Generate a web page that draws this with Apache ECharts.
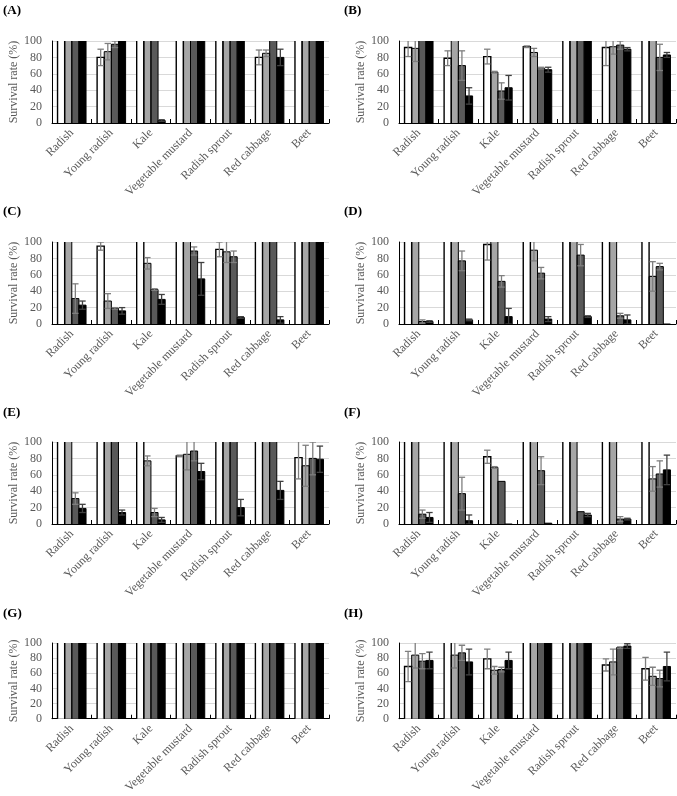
<!DOCTYPE html>
<html>
<head>
<meta charset="utf-8">
<script src="https://cdn.jsdelivr.net/npm/echarts@6/dist/echarts.min.js"></script>
<style>
html,body{margin:0;padding:0;background:#fff;}
#chart{width:677px;height:796px;}
</style>
</head>
<body>
<div id="chart"></div>
<script>
// Categories and tick labels
const categories = ['Radish', 'Young radish', 'Kale', 'Vegetable mustard', 'Radish sprout', 'Red cabbage', 'Beet'];
const panelLabels = ['(A)', '(B)', '(C)', '(D)', '(E)', '(F)', '(G)', '(H)'];
const yTicks = [0, 20, 40, 60, 80, 100];
const yAxisName = 'Survival rate (%)';

// Series order within each panel: white, light gray, dark gray, black
const A_mean = [
  [100, 80, 100, 100, 100, 80, 100],
  [100, 87, 100, 100, 100, 85, 100],
  [100, 96, 100, 100, 100, 100, 100],
  [100, 100, 3, 100, 100, 80, 100]
];
const A_sd = [
  [0, 10, 0, 0, 0, 9, 0],
  [0, 10, 0, 0, 0, 4, 0],
  [0, 4, 0, 0, 0, 0, 0],
  [0, 0, 1, 0, 0, 10, 0]
];
const B_mean = [
  [92, 79, 81, 93, 100, 92, 100],
  [91, 100, 62, 86, 100, 93, 100],
  [100, 70, 39, 67, 100, 95, 80],
  [100, 33, 43, 65, 100, 90, 83]
];
const B_sd = [
  [11, 9, 9, 1, 0, 22, 0],
  [16, 0, 1, 5, 0, 9, 0],
  [0, 18, 10, 1, 0, 5, 16],
  [0, 10, 15, 3, 0, 2, 3]
];
const C_mean = [
  [100, 95, 100, 100, 91, 100, 100],
  [100, 28, 74, 100, 88, 100, 100],
  [31, 19, 42, 89, 82, 100, 100],
  [23, 16, 30, 55, 8, 5, 100]
];
const C_sd = [
  [0, 5, 0, 0, 9, 0, 0],
  [0, 9, 7, 0, 13, 0, 0],
  [18, 1, 1, 5, 7, 0, 0],
  [5, 4, 6, 20, 1, 4, 0]
];
const D_mean = [
  [100, 100, 97, 100, 100, 100, 100],
  [100, 100, 100, 90, 100, 100, 58],
  [3, 77, 52, 62, 84, 10, 70],
  [3, 5, 9, 6, 9, 5, 0]
];
const D_sd = [
  [0, 0, 19, 0, 0, 0, 0],
  [0, 0, 0, 13, 0, 0, 18],
  [2, 12, 7, 7, 13, 3, 4],
  [1, 1, 10, 3, 1, 6, 0]
];
const E_mean = [
  [100, 100, 100, 83, 100, 100, 81],
  [100, 100, 77, 85, 100, 100, 71],
  [31, 100, 14, 89, 100, 100, 80],
  [19, 14, 5, 64, 20, 41, 79]
];
const E_sd = [
  [0, 0, 0, 1, 0, 0, 26],
  [0, 0, 6, 19, 0, 0, 25],
  [7, 0, 5, 12, 0, 0, 20],
  [5, 3, 3, 10, 10, 11, 16]
];
const F_mean = [
  [100, 100, 82, 100, 100, 100, 100],
  [100, 100, 69, 100, 100, 100, 55],
  [12, 37, 52, 65, 15, 6, 61],
  [8, 4, 0, 1, 11, 6, 66]
];
const F_sd = [
  [0, 0, 8, 0, 0, 0, 0],
  [0, 0, 1, 0, 0, 0, 15],
  [5, 20, 0, 17, 0, 3, 16],
  [6, 7, 0, 0, 2, 1, 18]
];
const G_mean = [
  [100, 100, 100, 100, 100, 100, 100],
  [100, 100, 100, 100, 100, 100, 100],
  [100, 100, 100, 100, 100, 100, 100],
  [100, 100, 100, 100, 100, 100, 100]
];
const G_sd = [
  [0, 0, 0, 0, 0, 0, 0],
  [0, 0, 0, 0, 0, 0, 0],
  [0, 0, 0, 0, 0, 0, 0],
  [0, 0, 0, 0, 0, 0, 0]
];
const H_mean = [
  [69, 100, 79, 100, 100, 71, 66],
  [84, 84, 64, 100, 100, 75, 56],
  [76, 87, 65, 100, 100, 94, 53],
  [77, 75, 77, 100, 100, 96, 69]
];
const H_sd = [
  [20, 0, 13, 0, 0, 8, 15],
  [17, 17, 5, 0, 0, 17, 12],
  [10, 10, 3, 0, 0, 1, 11],
  [11, 17, 11, 0, 0, 3, 19]
];

const panelMeans = [A_mean, B_mean, C_mean, D_mean, E_mean, F_mean, G_mean, H_mean];
const panelSds = [A_sd, B_sd, C_sd, D_sd, E_sd, F_sd, G_sd, H_sd];

// Styling (not data)
const barColors = ['#ffffff', '#a6a6a6', '#595959', '#000000'];
const CAT_GAP = 0.28;
const SERIF = 'Liberation Serif';
const TXT = '#595959';
const colLeft = [52, 399];
const rowTop = [41, 242, 442, 643];
const plotW = 277, plotH = 82;
const labelLeft = [3, 344];
const labelTop = [4, 205, 406, 607];
const Y_MAX = yTicks[yTicks.length - 1];

const chart = echarts.init(document.getElementById('chart'), null, {renderer: 'canvas'});

function barGeom(api, ci, si) {
  const band = api.size([1, 0])[0];
  const bw = band * (1 - CAT_GAP) / 4;
  const cx = api.coord([ci, 0])[0];
  const x0 = cx + (si - 2) * bw;
  return {bw: bw, x0: x0, x1: x0 + bw, xc: x0 + bw / 2};
}

const grids = [], xAxes = [], yAxes = [], series = [], titles = [];
for (let p = 0; p < 8; p++) {
  const col = p % 2, row = Math.floor(p / 2);
  grids.push({left: colLeft[col], top: rowTop[row], width: plotW, height: plotH, containLabel: false});
  titles.push({
    text: panelLabels[p], left: labelLeft[col], top: labelTop[row], padding: 0,
    textStyle: {fontFamily: SERIF, fontWeight: 'bold', fontSize: 13, color: '#000'}
  });
  xAxes.push({
    type: 'category', gridIndex: p, data: categories,
    axisLine: {lineStyle: {color: '#000', width: 1}},
    axisTick: {show: true, inside: true, length: 4, lineStyle: {color: '#000'}},
    axisLabel: {interval: 0, rotate: 45, fontFamily: SERIF, fontSize: 12, color: TXT, margin: 8},
    splitLine: {show: false}
  });
  yAxes.push({
    type: 'value', gridIndex: p, min: yTicks[0], max: Y_MAX, interval: 20,
    name: yAxisName, nameLocation: 'middle', nameGap: 31,
    nameTextStyle: {fontFamily: SERIF, fontSize: 12, color: TXT},
    axisLine: {show: true, lineStyle: {color: '#000', width: 1}},
    axisTick: {show: false},
    axisLabel: {fontFamily: SERIF, fontSize: 12, color: TXT, margin: 10},
    splitLine: {show: true, lineStyle: {color: '#d9d9d9', width: 1}}
  });
  for (let s = 0; s < 4; s++) {
    series.push({
      type: 'bar', xAxisIndex: p, yAxisIndex: p,
      data: panelMeans[p][s],
      barGap: '0%', barCategoryGap: (CAT_GAP * 100) + '%',
      itemStyle: {color: barColors[s], borderWidth: 0},
      silent: true, animation: false
    });
  }
  const outData = [], errData = [];
  for (let s = 0; s < 4; s++) {
    for (let c = 0; c < categories.length; c++) {
      outData.push([c, s, panelMeans[p][s][c]]);
      errData.push([c, s, panelMeans[p][s][c], panelSds[p][s][c]]);
    }
  }
  // bar outlines (open at top when the bar reaches the axis maximum)
  series.push({
    type: 'custom', xAxisIndex: p, yAxisIndex: p, clip: false, z: 5,
    animation: false, silent: true, encode: {x: 0, y: 2}, data: outData,
    renderItem: function (params, api) {
      const ci = api.value(0), si = api.value(1), v = api.value(2);
      const g = barGeom(api, ci, si);
      const y0 = api.coord([ci, 0])[1];
      const yT = api.coord([ci, v])[1];
      const lw = si === 0 ? 1.4 : 1;
      let pts;
      if (v >= Y_MAX) {
        return {type: 'group', children: [
          {type: 'line', shape: {x1: g.x0, y1: y0, x2: g.x0, y2: yT}, style: {stroke: '#000', lineWidth: lw}},
          {type: 'line', shape: {x1: g.x1, y1: y0, x2: g.x1, y2: yT}, style: {stroke: '#000', lineWidth: lw}}
        ]};
      }
      pts = [[g.x0, y0], [g.x0, yT], [g.x1, yT], [g.x1, y0]];
      return {type: 'polyline', shape: {points: pts}, style: {stroke: '#000', lineWidth: lw, fill: null}};
    }
  });
  // error bars
  series.push({
    type: 'custom', xAxisIndex: p, yAxisIndex: p, clip: true, z: 10,
    animation: false, silent: true, encode: {x: 0, y: 2}, data: errData,
    renderItem: function (params, api) {
      const ci = api.value(0), si = api.value(1), m = api.value(2), sd = api.value(3);
      if (!sd) return null;
      const g = barGeom(api, ci, si);
      const x = g.xc;
      const yT = api.coord([ci, m + sd])[1];
      const yB = api.coord([ci, Math.max(m - sd, 0)])[1];
      const cap = g.bw * 0.45;
      const style = {stroke: si === 3 ? '#404040' : '#7f7f7f', lineWidth: 1.3};
      return {
        type: 'group',
        children: [
          {type: 'line', shape: {x1: x, y1: yT, x2: x, y2: yB}, style: style},
          {type: 'line', shape: {x1: x - cap, y1: yT, x2: x + cap, y2: yT}, style: style},
          {type: 'line', shape: {x1: x - cap, y1: yB, x2: x + cap, y2: yB}, style: style}
        ]
      };
    }
  });
}

chart.setOption({
  backgroundColor: '#ffffff',
  animation: false,
  title: titles,
  grid: grids,
  xAxis: xAxes,
  yAxis: yAxes,
  series: series
});
</script>
</body>
</html>
